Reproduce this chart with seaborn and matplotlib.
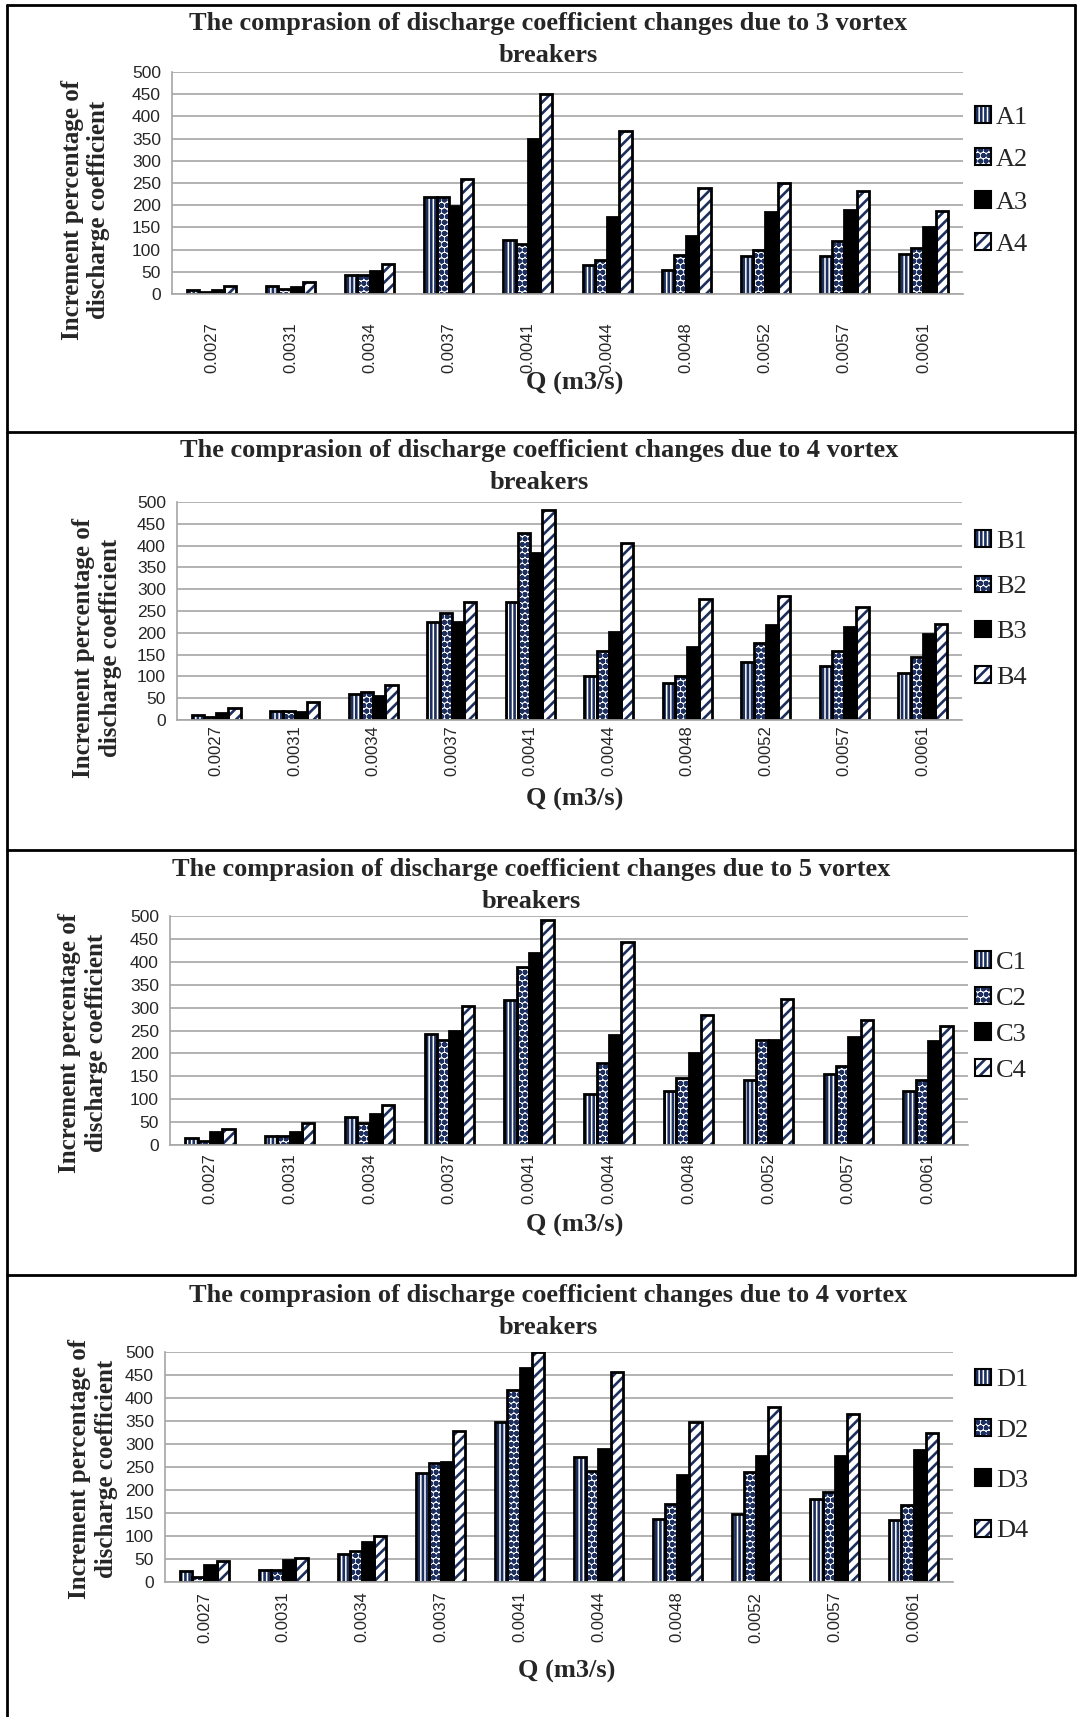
import numpy as np
import pandas as pd
import matplotlib.pyplot as plt
from matplotlib.patches import Rectangle, Patch
import seaborn as sns

# Q values (x categories)
q_labels = ['0.0027', '0.0031', '0.0034', '0.0037', '0.0041',
            '0.0044', '0.0048', '0.0052', '0.0057', '0.0061']

# panel 1 - 3 vortex breakers
a1 = [10, 18, 42, 218, 122, 65, 53, 86, 85, 91]
a2 = [5, 12, 42, 218, 112, 76, 88, 99, 120, 104]
a3 = [8, 16, 52, 198, 348, 173, 130, 185, 190, 152]
a4 = [18, 27, 68, 260, 450, 368, 238, 250, 232, 187]

# panel 2 - 4 vortex breakers
b1 = [11, 21, 60, 224, 271, 101, 86, 134, 124, 107]
b2 = [6, 21, 65, 246, 429, 158, 101, 177, 158, 145]
b3 = [17, 19, 55, 224, 384, 202, 167, 217, 214, 198]
b4 = [27, 42, 80, 271, 481, 405, 277, 284, 259, 220]

# panel 3 - 5 vortex breakers
c1 = [15, 20, 62, 242, 317, 111, 118, 143, 154, 118]
c2 = [9, 20, 49, 229, 389, 180, 146, 229, 172, 143]
c3 = [29, 29, 68, 250, 419, 240, 201, 230, 236, 226]
c4 = [34, 47, 87, 303, 491, 444, 284, 318, 274, 260]

# panel 4 - 4 vortex breakers (D)
d1 = [23, 27, 61, 238, 348, 272, 137, 148, 181, 134]
d2 = [11, 27, 68, 258, 417, 241, 170, 240, 195, 168]
d3 = [38, 47, 86, 260, 466, 289, 233, 274, 274, 288]
d4 = [46, 52, 101, 329, 500, 457, 348, 381, 366, 324]

titles = ['The comprasion of discharge coefficient changes due to 3 vortex\nbreakers',
          'The comprasion of discharge coefficient changes due to 4 vortex\nbreakers',
          'The comprasion of discharge coefficient changes due to 5 vortex\nbreakers',
          'The comprasion of discharge coefficient changes due to 4 vortex\nbreakers']

sns.set_style('white')
plt.rcParams['font.family'] = ['Liberation Serif', 'DejaVu Serif']
plt.rcParams['hatch.linewidth'] = 1.9

navy = '#1C2F5E'
# (facecolor, hatch) per series
styles = [('white', '||||'), ('white', 'ooo'), ('black', ''), ('white', '///')]

W, H = 1083, 1717
fig = plt.figure(figsize=(W / 100, H / 100), dpi=100)

# pixel layout per panel: axes box, title center, label positions, legend
panels = [
    dict(series=['A1', 'A2', 'A3', 'A4'], data=[a1, a2, a3, a4],
         box=(172, 963, 72, 294), title_y=39.5, title_x=548,
         ylab=(-0.078, 0.38), xlab=(0.509, -0.35), tick_pad=20,
         leg_y=181, leg_sp=0.75),
    dict(series=['B1', 'B2', 'B3', 'B4'], data=[b1, b2, b3, b4],
         box=(177, 962, 502, 720), title_y=466.5, title_x=539,
         ylab=(-0.07, 0.33), xlab=(0.507, -0.31), tick_pad=4,
         leg_y=609.5, leg_sp=0.85),
    dict(series=['C1', 'C2', 'C3', 'C4'], data=[c1, c2, c3, c4],
         box=(170, 968, 916, 1145), title_y=885, title_x=531,
         ylab=(-0.078, 0.445), xlab=(0.507, -0.3), tick_pad=6,
         leg_y=1016.5, leg_sp=0.5),
    dict(series=['D1', 'D2', 'D3', 'D4'], data=[d1, d2, d3, d4],
         box=(165, 953, 1352, 1582), title_y=1311.5, title_x=548,
         ylab=(-0.06, 0.49), xlab=(0.51, -0.34), tick_pad=7,
         leg_y=1455.5, leg_sp=1.05),
]

grid_c = '#A6A6A6'

for i, p in enumerate(panels):
    x0, x1, yt, yb = p['box']
    ax = fig.add_axes([x0 / W, 1 - yb / H, (x1 - x0) / W, (yb - yt) / H])

    df = pd.DataFrame({
        'Q': np.tile(q_labels, 4),
        'value': np.concatenate(p['data']),
        'series': np.repeat(p['series'], len(q_labels)),
    })
    sns.barplot(data=df, x='Q', y='value', hue='series', order=q_labels,
                hue_order=p['series'], width=0.62, gap=0, ax=ax,
                legend=False, err_kws={'linewidth': 0})

    # patterns in navy, outlines in black
    for cont, (fc, hatch) in zip(ax.containers, styles):
        for bar in cont:
            bar.set_facecolor(fc)
            bar.set_hatch(hatch)
            bar.set_edgecolor(navy)
            bar.set_linewidth(0)
            ax.add_patch(Rectangle(bar.get_xy(), bar.get_width(), bar.get_height(),
                                   fill=False, edgecolor='black', linewidth=2,
                                   zorder=bar.get_zorder() + 0.1))

    ax.set_ylim(0, 500)
    ax.set_xlim(-0.5, len(q_labels) - 0.5)
    ax.set_yticks(np.arange(0, 501, 50))
    ax.yaxis.grid(True, color=grid_c, linewidth=1.2)
    ax.set_axisbelow(True)
    for s in ['top', 'right']:
        ax.spines[s].set_visible(False)
    for s in ['left', 'bottom']:
        ax.spines[s].set_color(grid_c)
        ax.spines[s].set_linewidth(1.2)

    ax.tick_params(axis='y', which='major', direction='out', length=5,
                   color=grid_c, labelsize=12.5, pad=3)
    ax.set_xticks(np.arange(-0.5, len(q_labels), 1), minor=True)
    ax.tick_params(axis='x', which='minor', direction='out', length=6, color=grid_c)
    ax.tick_params(axis='x', which='major', length=0, labelsize=12,
                   pad=p['tick_pad'], labelrotation=90)
    for lab in ax.get_yticklabels() + ax.get_xticklabels():
        lab.set_fontfamily(['Liberation Sans', 'DejaVu Sans'])

    ax.set_ylabel('Increment percentage of\ndischarge coefficient',
                  fontsize=18, fontweight='bold', linespacing=1.2)
    ax.yaxis.set_label_coords(*p['ylab'])
    ax.set_xlabel('Q (m3/s)', fontsize=19, fontweight='bold')
    ax.xaxis.set_label_coords(*p['xlab'])

    fig.text(p['title_x'] / W, 1 - p['title_y'] / H, titles[i], ha='center',
             va='center', fontsize=19, fontweight='bold', linespacing=1.5)

    handles = [(Patch(facecolor=fc, hatch=h, edgecolor=navy, linewidth=0),
                Patch(fill=False, edgecolor='black', linewidth=1.5))
               for fc, h in styles]
    ax.legend(handles, p['series'], loc='center left',
              bbox_to_anchor=(975 / W, 1 - p['leg_y'] / H),
              bbox_transform=fig.transFigure, frameon=False, fontsize=19,
              borderpad=0, borderaxespad=0, handlelength=0.6, handleheight=0.6,
              handletextpad=0.2, labelspacing=p['leg_sp'])

# panel frames
seps = [5, 432, 850, 1275]
for y in seps:
    fig.add_artist(plt.Line2D([7 / W, 1075 / W], [1 - y / H, 1 - y / H], color='black',
                              linewidth=2, transform=fig.transFigure))
fig.add_artist(plt.Line2D([7 / W, 7 / W], [0, 1 - 5 / H], color='black',
                          linewidth=2, transform=fig.transFigure))
fig.add_artist(plt.Line2D([1075 / W, 1075 / W], [1 - 1275 / H, 1 - 5 / H],
                          color='black', linewidth=2, transform=fig.transFigure))

fig.savefig('out.png', dpi=100, facecolor='white')
